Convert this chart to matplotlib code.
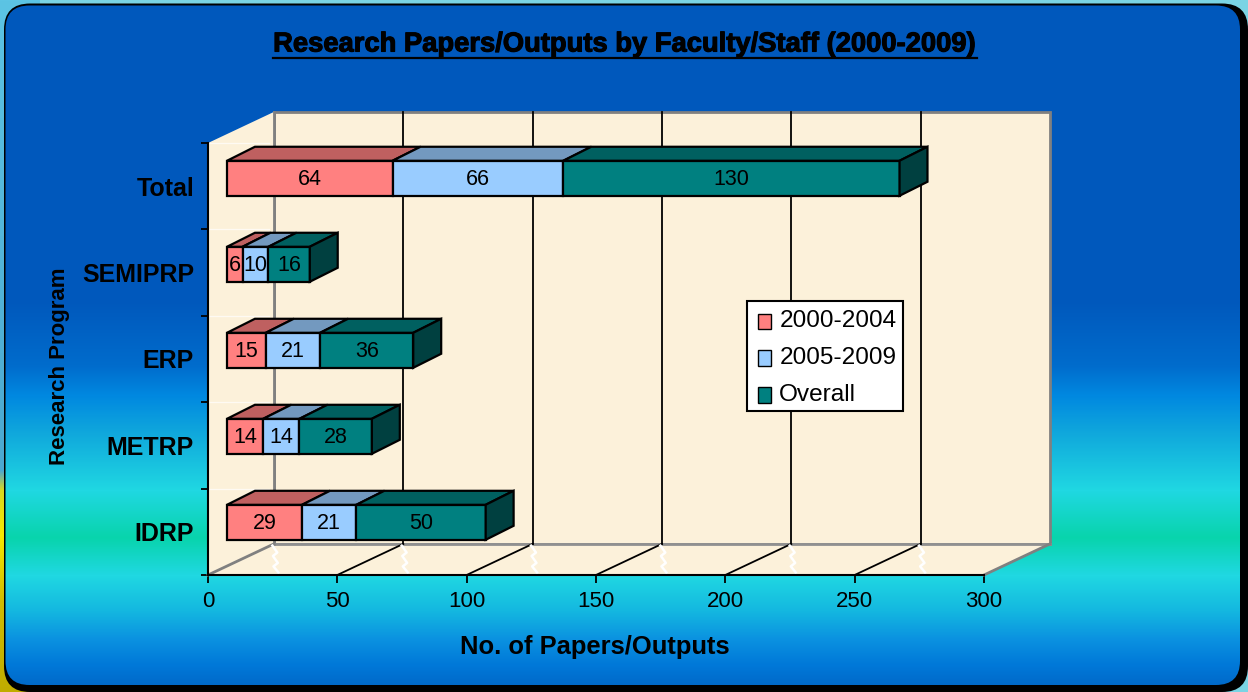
import matplotlib
matplotlib.use("Agg")
import matplotlib.patheffects as pe
import matplotlib.pyplot as plt
import numpy as np
from matplotlib.legend_handler import HandlerPatch
from matplotlib.patches import FancyBboxPatch, Patch, Polygon, Rectangle

# data
programs = ["IDRP", "METRP", "ERP", "SEMIPRP", "Total"]
period_2000_2004 = [29, 14, 15, 6, 64]
period_2005_2009 = [21, 14, 21, 10, 66]
overall = [50, 28, 36, 16, 130]
x_ticks = [0, 50, 100, 150, 200, 250, 300]

W, H = 1248, 692

# fake-3d geometry in data units (x: 776 px = 300, y: 432 px = 5 bands)
WALL_DX, WALL_DY = 25.5, 0.36
BAR_X0, BAR_Y0 = 7.35, 0.11
BAR_H = 0.405
BAR_DX, BAR_DY = 10.8, 0.162
BAR_PITCH = 0.9955

FACE = ["#FF8080", "#99CCFF", "#008080"]
TOP = ["#BF6060", "#7399BF", "#006060"]
SIDE = "#004040"
WALL = "#FCF1DA"

to_rgb = matplotlib.colors.to_rgb


def vgrad(stops_y, stops_c):
    rgb = np.array([to_rgb(c) for c in stops_c])
    ys = np.arange(H)
    return np.stack([np.interp(ys, stops_y, rgb[:, i]) for i in range(3)], axis=1)


fig = plt.figure(figsize=(W / 100, H / 100), dpi=100)
plt.rcParams["font.family"] = ["Liberation Sans", "DejaVu Sans"]

# ---------------------------------------------------------------------------
# Slide background
# ---------------------------------------------------------------------------
bg = fig.add_axes([0, 0, 1, 1])
bg.set_xlim(0, W)
bg.set_ylim(H, 0)
bg.axis("off")

outer = np.ones((H, W, 3))
outer[:, :] = to_rgb("#7AD4E4")
left_strip = vgrad([0, 470, 490, 535, 600, 692],
                   ["#5CC4E4", "#4CA8D0", "#D8D820", "#F4E800", "#D0BC00", "#C0AC00"])
outer[:, :40] = left_strip[:, None, :]
bg.imshow(outer, extent=(0, W, H, 0), aspect="auto", zorder=0)

bg.add_patch(FancyBboxPatch((4 + 26, 3.5 + 26), 1244 - 52, 688.5 - 52,
                            boxstyle="round,pad=26", fc="black", ec="none", zorder=1))

grad = vgrad([0, 300, 365, 395, 433, 490, 537, 575, 610, 640, 665, 692],
             ["#0058BC", "#0058BC", "#006CCC", "#0088E0", "#10A8DC", "#20D8E2",
              "#08D4AC", "#20D8E2", "#14B8E0", "#0A90E0", "#0078D8", "#0064C4"])
grad = np.repeat(grad[:, None, :], W, axis=1)
im = bg.imshow(grad, extent=(0, W, H, 0), aspect="auto", zorder=2)
inner = FancyBboxPatch((5.5 + 24, 5.5 + 24), 1234.5 - 48, 679.5 - 48,
                       boxstyle="round,pad=24", fc="none", ec="none",
                       transform=bg.transData)
bg.add_patch(inner)
im.set_clip_path(inner)
bg.set_xlim(0, W)
bg.set_ylim(H, 0)

# title, underlined by hand
bg.text(625, 44.5, "Research Papers/Outputs by Faculty/Staff (2000-2009)",
        weight="bold", fontsize=19.7, ha="center", va="center", color="black", zorder=5,
        path_effects=[pe.withStroke(linewidth=0.8, foreground="black")])
bg.plot([273, 977], [58, 58], color="black", lw=1.6, zorder=5)

# ---------------------------------------------------------------------------
# Chart, axes sit on the front plane of the 3d box
# ---------------------------------------------------------------------------
ax = fig.add_axes([208 / W, (H - 575) / H, 776 / W, 432 / H])
ax.patch.set_visible(False)
ax.set_xlim(0, 300)
ax.set_ylim(0, 5)

x_max, y_max = 300, len(programs)
# back wall, left wall, floor
ax.add_patch(Polygon([(WALL_DX, WALL_DY), (x_max + WALL_DX, WALL_DY),
                      (x_max + WALL_DX, y_max + WALL_DY), (WALL_DX, y_max + WALL_DY)],
                     fc=WALL, ec="#808080", lw=2, clip_on=False, zorder=1))
ax.add_patch(Polygon([(0, 0), (WALL_DX, WALL_DY), (WALL_DX, y_max + WALL_DY), (0, y_max)],
                     fc=WALL, ec="none", clip_on=False, zorder=1))
ax.add_patch(Polygon([(0, 0), (x_max, 0), (x_max + WALL_DX, WALL_DY), (WALL_DX, WALL_DY)],
                     fc=WALL, ec="none", clip_on=False, zorder=1))
ax.plot([WALL_DX, WALL_DX], [WALL_DY, y_max + WALL_DY], color="#808080", lw=2, clip_on=False, zorder=2)
ax.plot([WALL_DX, x_max + WALL_DX], [WALL_DY, WALL_DY], color="#909090", lw=2, clip_on=False, zorder=2)
ax.plot([x_max, x_max + WALL_DX], [0, WALL_DY], color="#808080", lw=2, clip_on=False, zorder=2)
ax.plot([0, WALL_DX], [0, WALL_DY], color="#808080", lw=2, clip_on=False, zorder=2)

for t in x_ticks[1:-1]:
    ax.plot([t + WALL_DX, t + WALL_DX], [WALL_DY, y_max + WALL_DY], color="black", lw=1.3,
            clip_on=False, zorder=2)
    ax.plot([t, t + WALL_DX], [0, WALL_DY], color="black", lw=1.3, clip_on=False, zorder=2)
# little white zigzags on the floor under each gridline
for t in x_ticks[:-1]:
    xs = np.array([0.4, 2.3, 0.6, 2.5, 0.8, 2.7]) + t + WALL_DX - 1
    yz = np.array([0.34, 0.26, 0.22, 0.14, 0.10, 0.03])
    ax.plot(xs, yz, color="white", lw=1.8, clip_on=False, zorder=2)
# faint white lines on the left wall
for k in range(1, y_max + 1):
    ax.plot([0, WALL_DX - 2], [k, k], color="white", lw=0.9, alpha=0.7, clip_on=False, zorder=2)

# bars
series = [period_2000_2004, period_2005_2009, overall]
labels = ["2000-2004", "2005-2009", "Overall"]
y_pos = np.arange(len(programs)) * BAR_PITCH + 0.5 + BAR_Y0
left = np.full(len(programs), BAR_X0)
for s, vals in enumerate(series):
    ax.barh(y_pos, vals, height=BAR_H, left=left, color=FACE[s], edgecolor="black",
            linewidth=1.6, clip_on=False, zorder=4)
    for yc, v, l in zip(y_pos, vals, left):
        top = yc + BAR_H / 2
        ax.add_patch(Polygon([(l, top), (l + v, top), (l + v + BAR_DX, top + BAR_DY),
                              (l + BAR_DX, top + BAR_DY)],
                             fc=TOP[s], ec="black", lw=1.6, clip_on=False, zorder=4))
        ax.text(l + v / 2, yc - 0.01, str(v), ha="center", va="center", fontsize=15.5,
                color="black", zorder=6)
    left = left + np.array(vals)
for yc, l in zip(y_pos, left):
    bot, top = yc - BAR_H / 2, yc + BAR_H / 2
    ax.add_patch(Polygon([(l, bot), (l + BAR_DX, bot + BAR_DY), (l + BAR_DX, top + BAR_DY), (l, top)],
                         fc=SIDE, ec="black", lw=1.6, clip_on=False, zorder=4))

# axes furniture
for name in ("top", "right"):
    ax.spines[name].set_visible(False)
for name in ("left", "bottom"):
    ax.spines[name].set_linewidth(1.5)
    ax.spines[name].set_zorder(7)
ax.set_xticks(x_ticks)
ax.set_xticklabels([str(t) for t in x_ticks], fontsize=16)
ax.set_yticks(range(len(programs) + 1))
ax.set_yticklabels([])
ax.set_yticks(np.arange(len(programs)) + 0.5, minor=True)
ax.set_yticklabels(programs, minor=True, fontsize=18, fontweight="bold")
ax.tick_params(axis="x", length=5.8, width=1.3, pad=6)
ax.tick_params(axis="y", which="major", length=5, width=1.3)
ax.tick_params(axis="y", which="minor", length=0, pad=10)

ax.set_xlabel("No. of Papers/Outputs", fontsize=18.4, fontweight="bold")
ax.xaxis.set_label_coords(0.4985, -0.138)
ax.set_ylabel("Research Program", fontsize=16, fontweight="bold")
ax.yaxis.set_label_coords(-0.1775, 0.483)


# legend swatch sits a little in from the frame
def inset_swatch(legend, orig_handle, xdescent, ydescent, width, height, fontsize):
    return Rectangle((xdescent + 3, ydescent - 2), width - 3, height + 1)


handles = [Patch(fc=FACE[s], ec="black", label=labels[s]) for s in range(3)]
leg = ax.legend(handles=handles, loc="upper left", ncol=1, fontsize=17.6,
                bbox_to_anchor=((747 - 208) / 776, (575 - 301) / 432), borderaxespad=0,
                fancybox=False, framealpha=1, edgecolor="black", handlelength=0.7,
                handleheight=0.53, handletextpad=0.33, labelspacing=0.61, borderpad=0.29,
                handler_map={Patch: HandlerPatch(patch_func=inset_swatch)})
leg.get_frame().set_linewidth(1.5)
leg.set_zorder(8)
for txt in leg.get_texts():
    txt.set_y(-2)

fig.savefig("out.png", dpi=100)
